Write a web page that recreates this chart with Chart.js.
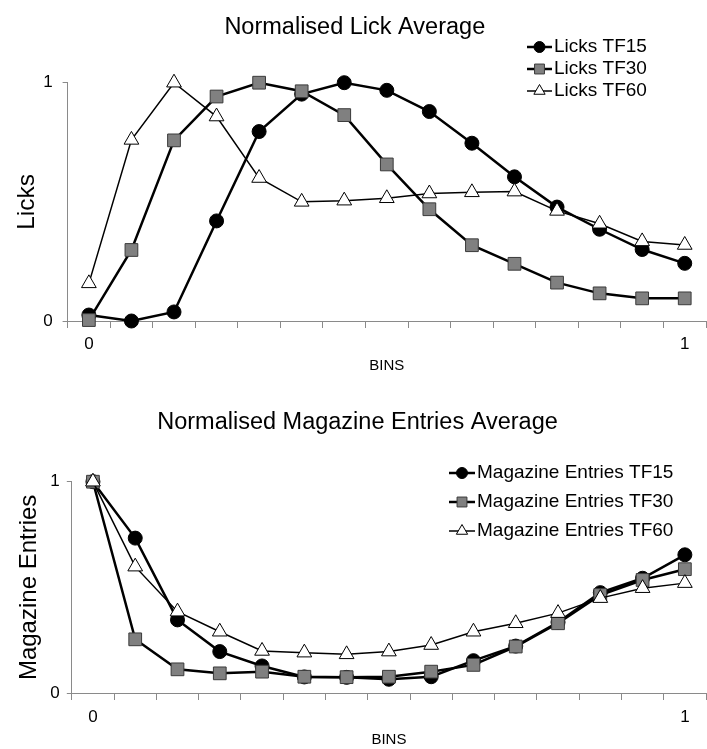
<!DOCTYPE html>
<html>
<head>
<meta charset="utf-8">
<script src="https://cdn.jsdelivr.net/npm/chart.js@4.4.0/dist/chart.umd.min.js"></script>
<style>
  body { margin: 0; background: #fff; overflow: hidden; }
  .box { position: absolute; left: 0; width: 716px; }
</style>
</head>
<body>
<div class="box" style="top:0;height:375px"><canvas id="licks"></canvas></div>
<div class="box" style="top:375px;height:374px"><canvas id="mag"></canvas></div>
<script>
// bins (only first and last are labelled)
const bins = ['0', '', '', '', '', '', '', '', '', '', '', '', '', '', '1'];
const yTicks = [0, 1];

// Normalised lick average
const licksTF15 = [0.025, 0.0, 0.038, 0.42, 0.795, 0.952, 1.0, 0.968, 0.879, 0.746, 0.605, 0.478, 0.385, 0.300, 0.242];
const licksTF30 = [0.004, 0.298, 0.758, 0.942, 1.0, 0.964, 0.864, 0.657, 0.469, 0.318, 0.240, 0.161, 0.116, 0.095, 0.095];
const licksTF60 = [0.158, 0.76, 1.0, 0.858, 0.60, 0.50, 0.505, 0.515, 0.535, 0.540, 0.543, 0.462, 0.408, 0.334, 0.319];
const licksNames = ['Licks TF15', 'Licks TF30', 'Licks TF60'];

// Normalised magazine entries average
const magTF15 = [1.0, 0.733, 0.346, 0.196, 0.128, 0.076, 0.074, 0.065, 0.077, 0.153, 0.222, 0.335, 0.475, 0.543, 0.654];
const magTF30 = [1.0, 0.254, 0.112, 0.093, 0.101, 0.077, 0.075, 0.077, 0.101, 0.133, 0.220, 0.330, 0.464, 0.535, 0.586];
const magTF60 = [1.0, 0.598, 0.385, 0.290, 0.199, 0.191, 0.183, 0.196, 0.227, 0.290, 0.330, 0.378, 0.449, 0.496, 0.520];
const magNames = ['Magazine Entries TF15', 'Magazine Entries TF30', 'Magazine Entries TF60'];

const FONT = "'Liberation Sans', Arial, sans-serif";
const AXIS = '#8a8a8a';

// marker look for TF15 / TF30 / TF60
const looks = [
    { style: 'circle',   r: 7,   lr: 5.5, fill: '#000',    edge: '#000',    line: 2.5 },
    { style: 'rect',     r: 9,   lr: 7,   fill: '#808080', edge: '#3a3a3a', line: 2.5 },
    { style: 'triangle', r: 8.5, lr: 6.5, fill: '#fff',    edge: '#000',    line: 1.5 }
];

// legend: short line with the marker, then the name
const lineLegend = {
    id: 'lineLegend',
    afterDraw(chart, args, opts) {
        const ctx = chart.ctx;
        ctx.save();
        ctx.font = opts.size + 'px ' + FONT;
        ctx.textBaseline = 'middle';
        ctx.textAlign = 'left';
        opts.names.forEach((name, i) => {
            const lk = looks[i];
            const y = opts.rows[i];
            ctx.strokeStyle = '#000';
            ctx.lineWidth = lk.line;
            ctx.beginPath();
            ctx.moveTo(opts.x0, y);
            ctx.lineTo(opts.x1, y);
            ctx.stroke();
            ctx.fillStyle = lk.fill;
            ctx.strokeStyle = lk.edge;
            ctx.lineWidth = 1;
            Chart.helpers.drawPoint(ctx, { pointStyle: lk.style, radius: lk.lr, rotation: 0, borderWidth: 1 },
                (opts.x0 + opts.x1) / 2, y);
            ctx.fillStyle = '#000';
            ctx.fillText(name, opts.textX, y);
        });
        ctx.restore();
    }
};

function makeChart(id, series, names, cfg) {
    const datasets = series.map((vals, i) => ({
        label: names[i],
        data: vals,
        borderColor: '#000',
        borderWidth: looks[i].line,
        pointStyle: looks[i].style,
        pointRadius: looks[i].r,
        pointBackgroundColor: looks[i].fill,
        pointBorderColor: looks[i].edge,
        pointBorderWidth: 1,
        tension: 0,
        clip: false,
        order: 3 - i
    }));

    return new Chart(document.getElementById(id), {
        type: 'line',
        data: { labels: bins, datasets: datasets },
        plugins: [lineLegend],
        options: {
            responsive: true,
            maintainAspectRatio: false,
            animation: false,
            events: [],
            layout: { padding: { left: 0, right: cfg.padRight, top: 0, bottom: 0 } },
            plugins: {
                legend: { display: false },
                tooltip: { enabled: false },
                title: {
                    display: true,
                    text: cfg.title,
                    color: '#000',
                    font: { family: FONT, size: 23.5, weight: 'normal' },
                    padding: { top: cfg.titleTop, bottom: cfg.titleBottom }
                },
                lineLegend: cfg.legend
            },
            scales: {
                x: {
                    offset: true,
                    grid: { offset: true, drawOnChartArea: false, tickLength: 7, color: AXIS },
                    border: { color: AXIS, width: 1 },
                    ticks: {
                        autoSkip: false, maxRotation: 0, padding: cfg.xTickPad,
                        color: '#000', font: { family: FONT, size: 17 }
                    },
                    title: {
                        display: true, text: 'BINS', color: '#000',
                        font: { family: FONT, size: 15 },
                        padding: { top: 0, bottom: cfg.xTitleBottom }
                    },
                    afterFit: s => { s.height = cfg.xHeight; }
                },
                y: {
                    min: yTicks[0],
                    max: yTicks[yTicks.length - 1],
                    grid: { drawOnChartArea: false, tickLength: 5, color: AXIS },
                    border: { color: AXIS, width: 1 },
                    afterBuildTicks: s => { s.ticks = yTicks.map(v => ({ value: v })); },
                    ticks: {
                        padding: cfg.yTickPad, color: '#000',
                        font: { family: FONT, size: 17 },
                        callback: v => String(v)
                    },
                    title: {
                        display: true, text: cfg.yTitle, color: '#000',
                        font: { family: FONT, size: cfg.yTitleSize },
                        padding: { top: cfg.yTitleTop, bottom: 0 }
                    },
                    afterFit: s => { s.width = cfg.yWidth; }
                }
            }
        }
    });
}

makeChart('licks', [licksTF15, licksTF30, licksTF60], licksNames, {
    title: 'Normalised Lick Average',
    titleTop: 13, titleBottom: 41.5,
    padRight: 6.4,
    yWidth: 67.6, yTitle: 'Licks', yTitleSize: 24.5, yTitleTop: 13, yTickPad: 10,
    xHeight: 54, xTickPad: 6, xTitleBottom: 0,
    legend: { names: licksNames, x0: 527, x1: 552, textX: 554, rows: [47, 69, 91], size: 19 }
});

makeChart('mag', [magTF15, magTF30, magTF60], magNames, {
    title: 'Normalised Magazine Entries Average',
    titleTop: 33.9, titleBottom: 44.6,
    padRight: 1,
    yWidth: 71.8, yTitle: 'Magazine Entries', yTitleSize: 24, yTitleTop: 14.6, yTickPad: 7,
    xHeight: 56, xTickPad: 7.5, xTitleBottom: 0,
    legend: { names: magNames, x0: 449, x1: 475, textX: 477, rows: [98, 127, 156], size: 19 }
});
</script>
</body>
</html>
